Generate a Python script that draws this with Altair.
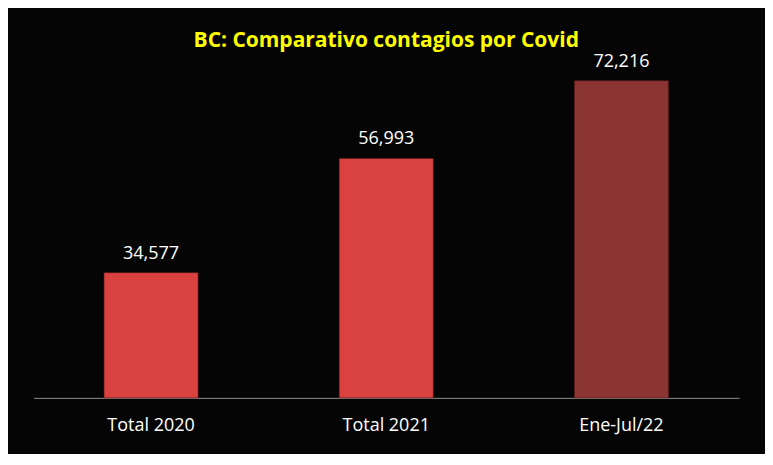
import altair as alt
import pandas as pd

categories = ["Total 2020", "Total 2021", "Ene-Jul/22"]
values = [34577, 56993, 72216]
labels = ["34,577", "56,993", "72,216"]
bar_colors = ["#DA4240", "#DA4240", "#8A3533"]
y_min = 10000
y_max = 80000

df = pd.DataFrame({"cat": categories, "val": values, "label": labels})

FONT = "Open Sans"

x_enc = alt.X("cat:N", sort=categories,
              scale=alt.Scale(paddingInner=0.6, paddingOuter=0.3),
              axis=alt.Axis(title=None, labelAngle=0, labelColor="white",
                            labelFontSize=18, labelFont=FONT, labelPadding=19,
                            ticks=False, domainColor="#8c8c8c", domainWidth=1,
                            grid=False))
y_scale = alt.Scale(domain=[y_min, y_max], zero=False, nice=False)

bars = alt.Chart(df).mark_bar(stroke="#5a1a18", strokeWidth=0.6).encode(
    x=x_enc,
    y=alt.Y("val:Q", scale=y_scale, axis=None),
    y2=alt.datum(y_min),
    color=alt.Color("cat:N", sort=categories,
                    scale=alt.Scale(domain=categories, range=bar_colors),
                    legend=None),
)

text = alt.Chart(df).mark_text(color="white", fontSize=18, font=FONT,
                               baseline="bottom", dy=-10).encode(
    x=alt.X("cat:N", sort=categories),
    y=alt.Y("val:Q", scale=y_scale),
    text="label:N",
)

chart = (bars + text).properties(
    width=706,
    height=357,
    background="#050505",
    padding={"left": 25.5, "right": 26, "top": 33, "bottom": 56},
    autosize=alt.AutoSizeParams(type="none"),
    title=alt.TitleParams("BC: Comparativo contagios por Covid",
                          color="#FFFF00", fontSize=21, font=FONT,
                          fontWeight="bold", anchor="middle",
                          baseline="alphabetic", offset=0, dy=27),
).configure_view(stroke=None)

chart.save("out.html", embed_options={"renderer": "svg", "actions": False})
